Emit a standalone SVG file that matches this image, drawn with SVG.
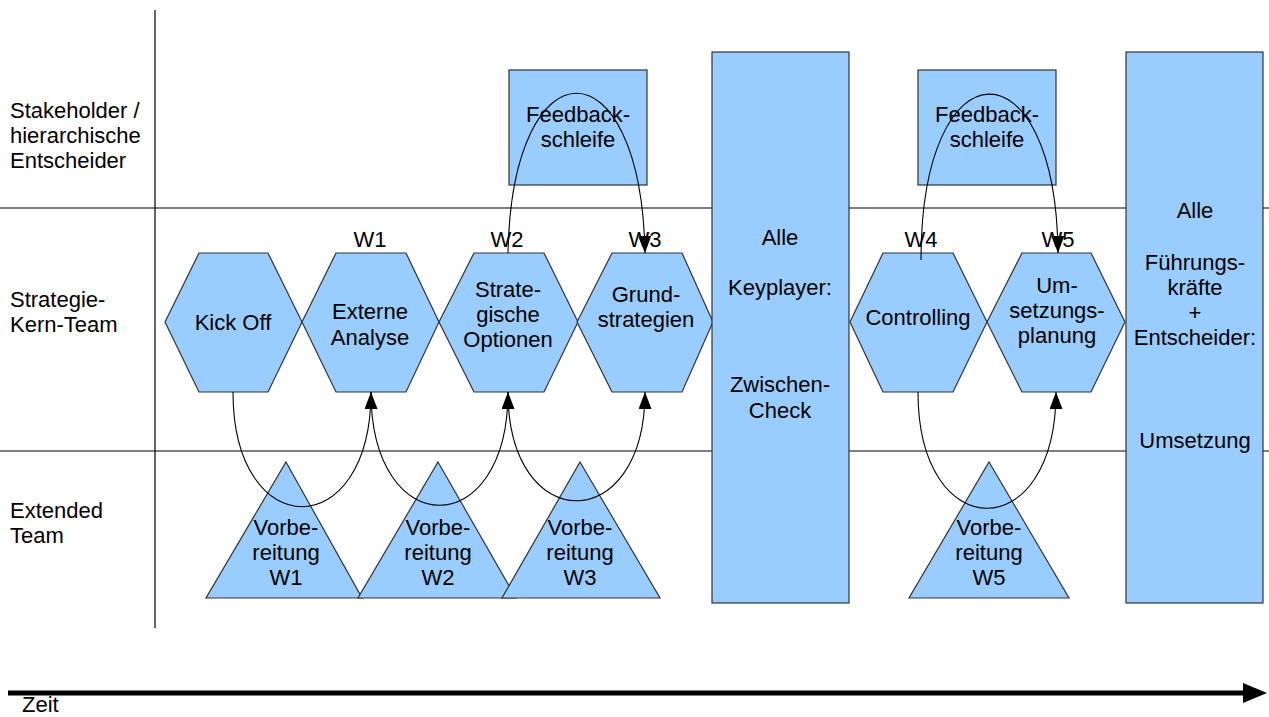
<svg xmlns="http://www.w3.org/2000/svg" width="1269" height="717" viewBox="0 0 1269 717">
<style>
text{font-family:"Liberation Sans",Arial,sans-serif;font-size:22px;fill:#000;}
.c{text-anchor:middle;}
.shape{fill:#99ccff;stroke:#333;stroke-width:1.2;}
.lane{stroke:#000;stroke-width:1.2;fill:none;}
.conn{stroke:#000;stroke-width:1.1;fill:none;}
</style>
<defs>
<marker id="ah" viewBox="0 0 17 13" refX="17" refY="6.5" markerWidth="17" markerHeight="13" markerUnits="userSpaceOnUse" orient="auto">
<path d="M0,0 L17,6.5 L0,13 Z" fill="#000"/>
</marker>
<marker id="big" viewBox="0 0 24 20" refX="2" refY="10" markerWidth="24" markerHeight="20" markerUnits="userSpaceOnUse" orient="auto">
<path d="M0,0 L24,10 L0,20 Z" fill="#000"/>
</marker>
</defs>
<rect width="1269" height="717" fill="#fff"/>
<g id="lanes">
<line class="lane" x1="0" y1="208" x2="1269" y2="208"/>
<line class="lane" x1="0" y1="451" x2="1269" y2="451"/>
<line class="lane" x1="155" y1="10" x2="155" y2="628"/>
<text x="10" y="118">Stakeholder /</text>
<text x="10" y="143">hierarchische</text>
<text x="10" y="168">Entscheider</text>
<text x="10" y="307">Strategie-</text>
<text x="10" y="332">Kern-Team</text>
<text x="10" y="518">Extended</text>
<text x="10" y="543">Team</text>
</g>
<g id="week-labels">
<text class="c" x="370" y="247">W1</text>
<text class="c" x="507" y="247">W2</text>
<text class="c" x="645" y="247">W3</text>
<text class="c" x="921" y="247">W4</text>
<text class="c" x="1058" y="247">W5</text>
</g>
<g id="feedback1">
<rect class="shape" x="509" y="70" width="138" height="115"/>
<text class="c" x="578" y="122">Feedback-</text>
<text class="c" x="578" y="147">schleife</text>
</g>
<g id="feedback2">
<rect class="shape" x="918" y="70" width="138" height="115"/>
<text class="c" x="987" y="122">Feedback-</text>
<text class="c" x="987" y="147">schleife</text>
</g>
<g id="kickoff">
<polygon class="shape" points="165,322 199,253 268,253 302,322 268,392 199,392"/>
<text class="c" x="233" y="330">Kick Off</text>
</g>
<g id="externe-analyse">
<polygon class="shape" points="302,322 336,253 406,253 439,322 406,392 336,392"/>
<text class="c" x="370" y="319">Externe</text>
<text class="c" x="370" y="345">Analyse</text>
</g>
<g id="strategische-optionen">
<polygon class="shape" points="439,322 474,253 544,253 578,322 544,392 474,392"/>
<text class="c" x="508" y="297">Strate-</text>
<text class="c" x="508" y="322">gische</text>
<text class="c" x="508" y="347">Optionen</text>
</g>
<g id="grundstrategien">
<polygon class="shape" points="577,322 612,253 682,253 713,322 682,392 612,392"/>
<text class="c" x="646" y="302">Grund-</text>
<text class="c" x="646" y="327">strategien</text>
</g>
<g id="keyplayer">
<rect class="shape" x="712" y="52" width="137" height="551"/>
<text class="c" x="780" y="245">Alle</text>
<text class="c" x="780" y="295">Keyplayer:</text>
<text class="c" x="780" y="392">Zwischen-</text>
<text class="c" x="780" y="418">Check</text>
</g>
<g id="controlling">
<polygon class="shape" points="850,322 883,253 953,253 987,322 953,392 883,392"/>
<text class="c" x="918" y="325">Controlling</text>
</g>
<g id="umsetzungsplanung">
<polygon class="shape" points="987,322 1022,253 1091,253 1125,322 1091,392 1022,392"/>
<text class="c" x="1057" y="293">Um-</text>
<text class="c" x="1057" y="318">setzungs-</text>
<text class="c" x="1057" y="343">planung</text>
</g>
<g id="fuehrungskraefte">
<rect class="shape" x="1126" y="52" width="137" height="551"/>
<text class="c" x="1195" y="218">Alle</text>
<text class="c" x="1195" y="270">Führungs-</text>
<text class="c" x="1195" y="295">kräfte</text>
<text class="c" x="1195" y="320">+</text>
<text class="c" x="1195" y="345">Entscheider:</text>
<text class="c" x="1195" y="448">Umsetzung</text>
</g>
<g id="vorbereitung-w1">
<polygon class="shape" points="286,462 362,598 206,598"/>
<text class="c" x="286" y="535">Vorbe-</text>
<text class="c" x="286" y="560">reitung</text>
<text class="c" x="286" y="585">W1</text>
</g>
<g id="vorbereitung-w2">
<polygon class="shape" points="438,462 516,598 358,598"/>
<text class="c" x="438" y="535">Vorbe-</text>
<text class="c" x="438" y="560">reitung</text>
<text class="c" x="438" y="585">W2</text>
</g>
<g id="vorbereitung-w3">
<polygon class="shape" points="580,462 660,598 502,598"/>
<text class="c" x="580" y="535">Vorbe-</text>
<text class="c" x="580" y="560">reitung</text>
<text class="c" x="580" y="585">W3</text>
</g>
<g id="vorbereitung-w5">
<polygon class="shape" points="989,462 1069,598 909,598"/>
<text class="c" x="989" y="535">Vorbe-</text>
<text class="c" x="989" y="560">reitung</text>
<text class="c" x="989" y="585">W5</text>
</g>
<g id="connectors">
<path class="conn" d="M508,253 C512,40 641,40 645,253" marker-end="url(#ah)"/>
<path class="conn" d="M921,260 C921,40 1056,40 1058,253" marker-end="url(#ah)"/>
<path class="conn" d="M233,392 C233,545 371,545 371,392" marker-end="url(#ah)"/>
<path class="conn" d="M371,392 C371,543 508,543 508,392" marker-end="url(#ah)"/>
<path class="conn" d="M508,392 C508,537 645,537 645,392" marker-end="url(#ah)"/>
<path class="conn" d="M918,392 C918,547 1056,547 1056,392" marker-end="url(#ah)"/>
<path d="M8,693 L1245,693" stroke="#000" stroke-width="5" fill="none" marker-end="url(#big)"/>
</g>
<g id="time-label">
<text x="22" y="712" font-size="18">Zeit</text>
</g>
</svg>
